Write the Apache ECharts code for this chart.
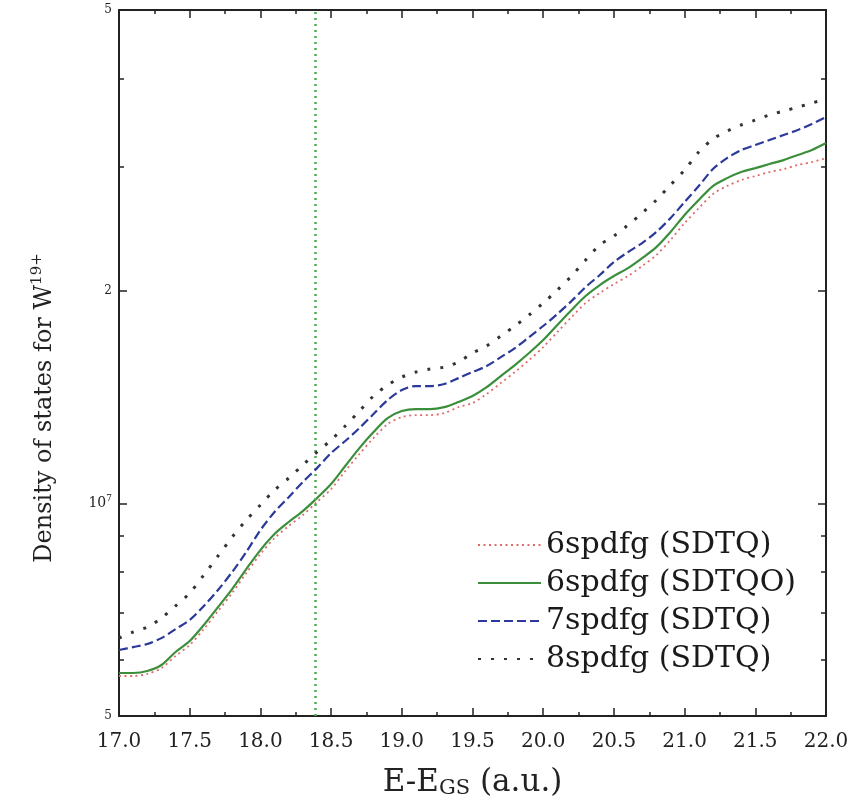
<!DOCTYPE html>
<html><head><meta charset="utf-8">
<script src="https://cdn.jsdelivr.net/npm/echarts@6/dist/echarts.min.js"></script>
<style>html,body{margin:0;padding:0;background:#fff}#c{width:863px;height:807px}</style>
</head><body><div id="c"></div>
<script>
// Energy grid (a.u.)
const energies = [17.0,17.1,17.2,17.3,17.4,17.5,17.6,17.7,17.8,17.9,
  18.0,18.1,18.2,18.3,18.4,18.5,18.6,18.7,18.8,18.9,
  19.0,19.1,19.2,19.3,19.4,19.5,19.6,19.7,19.8,19.9,
  20.0,20.1,20.2,20.3,20.4,20.5,20.6,20.7,20.8,20.9,
  21.0,21.1,21.2,21.3,21.4,21.5,21.6,21.7,21.8,21.9,22.0];
// Density of states, in units of 1e6
const UNIT = 1e6;
const dos6SDTQ = [5.697,5.697,5.734,5.846,6.081,6.303,6.640,7.041,7.467,7.970,
  8.480,8.932,9.291,9.630,10.047,10.481,11.115,11.750,12.376,12.958,
  13.253,13.343,13.343,13.430,13.691,13.876,14.290,14.811,15.352,15.963,
  16.651,17.491,18.362,19.227,19.864,20.455,20.997,21.693,22.486,23.609,
  24.958,26.201,27.434,28.160,28.712,29.094,29.475,29.760,30.157,30.452,30.843];
const dos6SDTQO = [5.753,5.753,5.790,5.905,6.161,6.385,6.728,7.132,7.564,8.074,
  8.590,9.052,9.413,9.756,10.176,10.655,11.299,11.979,12.624,13.210,
  13.517,13.604,13.604,13.691,13.921,14.197,14.614,15.154,15.707,16.334,
  17.039,17.896,18.790,19.671,20.390,20.997,21.545,22.259,23.071,24.236,
  25.619,26.899,28.160,28.895,29.475,29.854,30.254,30.647,31.157,31.664,32.398];
const dos7SDTQ = [6.200,6.260,6.323,6.446,6.640,6.837,7.158,7.540,7.996,8.535,
  9.169,9.725,10.208,10.725,11.222,11.788,12.258,12.786,13.387,14.010,
  14.475,14.667,14.667,14.763,15.050,15.352,15.656,16.116,16.597,17.202,
  17.838,18.549,19.350,20.257,21.066,21.977,22.705,23.382,24.236,25.361,
  26.727,28.160,29.760,30.843,31.664,32.189,32.713,33.256,33.798,34.470,35.254];
const dos8SDTQ = [6.446,6.576,6.682,6.881,7.158,7.467,7.919,8.425,8.961,9.473,
  9.950,10.447,10.862,11.336,11.827,12.297,12.874,13.517,14.197,14.715,
  15.098,15.352,15.501,15.599,15.861,16.334,16.711,17.265,17.838,18.489,
  19.227,20.057,20.997,22.118,23.231,23.923,24.797,25.785,26.899,28.252,
  29.664,31.462,32.819,33.688,34.360,34.918,35.499,35.959,36.422,36.913,37.392];
const seriesNames = ['6spdfg (SDTQ)','6spdfg (SDTQO)','7spdfg (SDTQ)','8spdfg (SDTQ)'];
const thresholdE = 18.39;
const yMin = 5e6, yMax = 5e7;
const yMajor = [5e6, 1e7, 2e7, 5e7];
const yMinor = [6e6, 7e6, 8e6, 9e6, 3e7, 4e7];
const xMin = 17, xMax = 22, xStep = 0.5;

const FONT = 'DejaVu Serif';
const pair = arr => energies.map((e, i) => [e, arr[i] * UNIT]);

function yLabel(v) {
  if (Math.abs(v - 1e7) < 1) return '{b|10}{s|7}';
  const m = v / Math.pow(10, Math.floor(Math.log10(v) + 1e-9));
  return '{a|' + Math.round(m) + '}';
}
const yRich = {
  a: {fontFamily: FONT, fontSize: 12, color: '#222'},
  b: {fontFamily: FONT, fontSize: 14, color: '#222'},
  s: {fontFamily: FONT, fontSize: 9, color: '#222', padding: [0, 0, 10, 0]}
};
const axLine = {show: true, onZero: false, lineStyle: {color: '#222', width: 2}};

function yAx(pos, ticks, len, labels) {
  return {
    type: 'log', logBase: 10, min: yMin, max: yMax, position: pos,
    axisLine: axLine, splitLine: {show: false},
    axisTick: {show: true, inside: true, length: len, customValues: ticks, lineStyle: {color: '#222', width: 1.5}},
    axisLabel: labels ? {show: true, customValues: yMajor, formatter: yLabel, rich: yRich, margin: 7} : {show: false},
    name: labels ? '{t|Density of states for W}{p|19+}' : '',
    nameLocation: 'middle', nameGap: 60, nameRotate: 90,
    nameTextStyle: {padding: [0, 90, 0, 0], rich: {
      t: {fontFamily: FONT, fontSize: 24, color: '#222'},
      p: {fontFamily: FONT, fontSize: 15, color: '#222', padding: [0, 0, 14, 0]}
    }}
  };
}

const chart = echarts.init(document.getElementById('c'), null, {renderer: 'canvas'});
chart.setOption({
  backgroundColor: '#fff',
  animation: false,
  grid: {left: 119, right: 37, top: 10, bottom: 91, containLabel: false},
  legend: {
    orient: 'vertical', left: 477, top: 530, padding: 0,
    itemWidth: 63, itemHeight: 2, itemGap: 8,
    itemStyle: {opacity: 0},
    textStyle: {fontFamily: FONT, fontSize: 30, lineHeight: 30, color: '#1a1a1a'},
    data: seriesNames
  },
  xAxis: [{
    type: 'value', min: xMin, max: xMax, interval: xStep, position: 'bottom',
    axisLine: axLine, splitLine: {show: false},
    axisTick: {show: true, inside: true, length: 8, lineStyle: {color: '#222', width: 1.5}},
    minorTick: {show: true, splitNumber: 2, length: 4, lineStyle: {color: '#222', width: 1.5}},
    axisLabel: {formatter: v => v.toFixed(1), fontFamily: FONT, fontSize: 20, color: '#222', margin: 16},
    name: '{e|E-E}{g|GS}{e| (a.u.)}', nameLocation: 'middle', nameGap: 50,
    nameTextStyle: {rich: {
      e: {fontFamily: FONT, fontSize: 31, color: '#222'},
      g: {fontFamily: FONT, fontSize: 21, color: '#222', padding: [12, 0, 0, 0]}
    }}
  }, {
    type: 'value', min: xMin, max: xMax, interval: xStep, position: 'top',
    axisLine: axLine, splitLine: {show: false},
    axisTick: {show: true, inside: true, length: 8, lineStyle: {color: '#222', width: 1.5}},
    minorTick: {show: true, splitNumber: 2, length: 4, lineStyle: {color: '#222', width: 1.5}},
    axisLabel: {show: false}
  }],
  yAxis: [
    yAx('left', yMajor, 8, true),
    yAx('left', yMinor, 5, false),
    yAx('right', yMajor, 8, false),
    yAx('right', yMinor, 5, false)
  ],
  series: [
    {name: seriesNames[0], type: 'line', data: pair(dos6SDTQ), showSymbol: false, symbol: 'none', smooth: 0.3,
     lineStyle: {color: '#e06a6a', width: 1.8, type: [2, 3.5]}, itemStyle: {color: '#e06a6a'}, z: 3},
    {name: seriesNames[1], type: 'line', data: pair(dos6SDTQO), showSymbol: false, symbol: 'none', smooth: 0.3,
     lineStyle: {color: '#3b8f3b', width: 2.2, type: 'solid'}, itemStyle: {color: '#3b8f3b'}, z: 4,
     markLine: {silent: true, symbol: 'none', label: {show: false},
       lineStyle: {color: '#4fae4f', width: 2.5, type: [2, 4]},
       data: [{xAxis: thresholdE}]}},
    {name: seriesNames[2], type: 'line', data: pair(dos7SDTQ), showSymbol: false, symbol: 'none', smooth: 0.3,
     lineStyle: {color: '#2b3a9a', width: 2.2, type: [9, 4]}, itemStyle: {color: '#2b3a9a'}, z: 5},
    {name: seriesNames[3], type: 'line', data: pair(dos8SDTQ), showSymbol: false, symbol: 'none', smooth: 0.3,
     lineStyle: {color: '#333', width: 3, type: [3, 10]}, itemStyle: {color: '#333'}, z: 6}
  ]
});
</script></body></html>
